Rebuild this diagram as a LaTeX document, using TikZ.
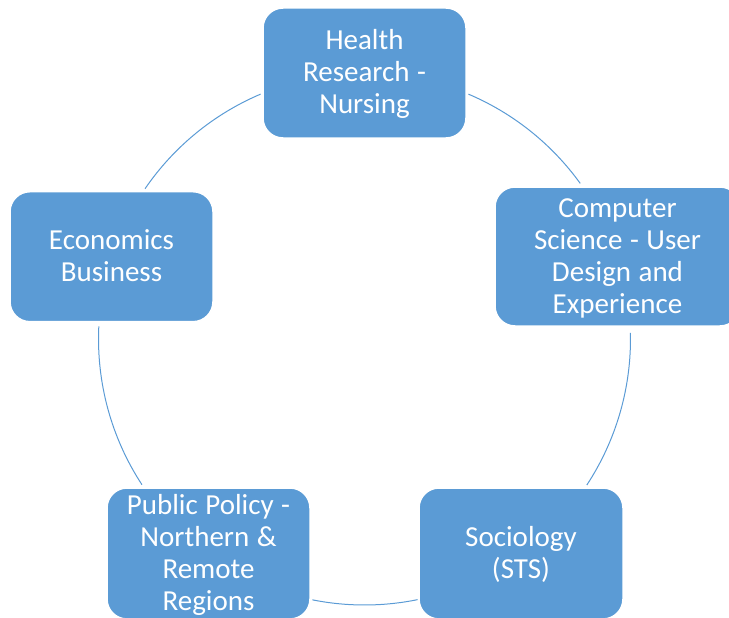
\documentclass[tikz,border=0pt]{standalone}
\usepackage{fontspec}
\setmainfont{Carlito}
\definecolor{boxblue}{HTML}{5B9BD5}
% struts fixing the height of the first line and the depth of the last one
\newcommand\topstrut{\rule{0pt}{25pt}}
\newcommand\bottomstrut{\rule[-7.5pt]{0pt}{7.5pt}}
\newcommand\tightspaces{\spaceskip=7.5pt\relax}
\tikzset{
  topic/.style={rectangle, rounded corners=20pt, fill=boxblue, draw=white,
    line width=1.5pt, text=white, align=center, inner sep=0pt,
    font=\fontsize{29}{32}\selectfont,
    execute at begin node={\tightspaces\topstrut},
    execute at end node=\bottomstrut},
  ring/.style={draw=boxblue, line width=1pt}
}
\begin{document}
\begin{tikzpicture}[x=1pt, y=1pt]
  \useasboundingbox (0,0) rectangle (729,-618);
  \begin{scope}
    \clip (0,0) rectangle (729,-618);
    % hub of the cycle
    \coordinate (hub) at (364.5,-339);
    % arcs of the cycle, drawn between neighbouring boxes
    \draw[ring] (hub) ++(113:266) arc[start angle=113, end angle=145.6, radius=266];
    \draw[ring] (hub) ++(177.3:266) arc[start angle=177.3, end angle=213.2, radius=266];
    \draw[ring] (hub) ++(258.7:266) arc[start angle=258.7, end angle=281.5, radius=266];
    \draw[ring] (hub) ++(-33.3:266) arc[start angle=-33.3, end angle=1.3, radius=266];
    \draw[ring] (hub) ++(35.8:266) arc[start angle=35.8, end angle=67, radius=266];
    % topic boxes
    \node[topic, minimum width=203, minimum height=130, text width=190] (health) at (364.5,-73)
      {Health\\Research -\\Nursing};
    \node[topic, minimum width=245, minimum height=139, text width=230] (cs) at (617.5,-256.5)
      {Computer\\Science - User\\Design and\\Experience};
    \node[topic, minimum width=204, minimum height=131, text width=190] (soc) at (521,-553.5)
      {Sociology\\(STS)};
    \node[topic, minimum width=203, minimum height=131, text width=200] (policy) at (208.5,-553.5)
      {Public Policy -\\Northern \&\\Remote\\Regions};
    \node[topic, minimum width=203, minimum height=130, text width=190] (econ) at (111.5,-256.7)
      {Economics\\Business};
  \end{scope}
\end{tikzpicture}
\end{document}
